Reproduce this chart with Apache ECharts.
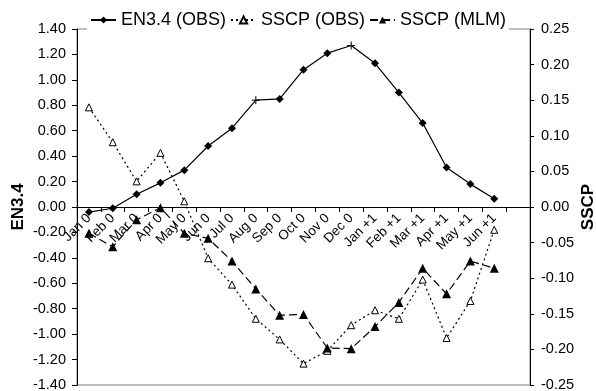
<!DOCTYPE html>
<html>
<head>
<meta charset="utf-8">
<script src="https://cdn.jsdelivr.net/npm/echarts@6/dist/echarts.min.js"></script>
<style>
  html, body { margin: 0; padding: 0; background: #fff; }
  #chart { width: 596px; height: 391px; }
</style>
</head>
<body>
<div id="chart"></div>
<script>
// month labels (last slot is empty in the original sheet)
const months = ['Jan 0', 'Feb 0', 'Mar 0', 'Apr 0', 'May 0', 'Jun 0', 'Jul 0', 'Aug 0', 'Sep 0',
    'Oct 0', 'Nov 0', 'Dec 0', 'Jan +1', 'Feb +1', 'Mar +1', 'Apr +1', 'May +1', 'Jun +1', ''];

// EN3.4 observed (left axis)
const en34Obs = [-0.04, -0.01, 0.10, 0.19, 0.29, 0.48, 0.62, 0.84, 0.85,
    1.08, 1.21, 1.27, 1.13, 0.90, 0.66, 0.31, 0.18, 0.065];

// SSCP observed (right axis)
const sscpObs = [0.140, 0.091, 0.036, 0.076, 0.008, -0.072, -0.109, -0.157, -0.186,
    -0.220, -0.202, -0.166, -0.145, -0.157, -0.102, -0.184, -0.132, -0.032];

// SSCP model (right axis)
const sscpMlm = [-0.037, -0.056, -0.018, -0.001, -0.037, -0.044, -0.076, -0.115, -0.152,
    -0.151, -0.198, -0.199, -0.168, -0.134, -0.086, -0.122, -0.076, -0.086];

const leftTicks = { min: -1.4, max: 1.4, step: 0.2 };
const rightTicks = { min: -0.25, max: 0.25, step: 0.05 };

// points drawn with a plain cross in the source instead of a diamond
const crossPoints = [7, 11];

const chart = echarts.init(document.getElementById('chart'));
const font = 'Liberation Sans, Arial, sans-serif';

const gridTop = 29, gridBottom = 6, chartH = 391;
// the category axis sits on the zero line, half way down the plot
const zeroOffset = -((chartH - gridTop - gridBottom) / 2);

const en34Data = en34Obs.map((v, i) => crossPoints.includes(i)
    ? { value: v, symbol: 'path://M0,4L8,4M4,0L4,8', symbolSize: 8,
        itemStyle: { color: 'none', borderColor: '#000', borderWidth: 1 } }
    : v);

const option = {
    animation: false,
    textStyle: { fontFamily: font, color: '#000' },
    legend: {
        left: 87,
        top: 9,
        padding: [2, 3, 3, 3],
        itemGap: 4,
        itemWidth: 25,
        itemHeight: 9,
        backgroundColor: '#fff',
        textStyle: { fontSize: 18, color: '#000', fontFamily: font },
        data: ['EN3.4 (OBS)', 'SSCP (OBS)', 'SSCP (MLM)']
    },
    grid: {
        left: 77, right: 66, top: gridTop, bottom: gridBottom,
        outerBoundsMode: 'none',
        containLabel: false,
        show: true,
        borderColor: '#808080',
        borderWidth: 1
    },
    xAxis: {
        type: 'category',
        data: months,
        boundaryGap: true,
        position: 'bottom',
        offset: zeroOffset,
        axisLine: { onZero: false, lineStyle: { color: '#000', width: 1 } },
        axisTick: { show: true, interval: 0, length: 5, lineStyle: { color: '#000' } },
        axisLabel: { interval: 0, rotate: 45, fontSize: 13.5, margin: 9, color: '#000', fontFamily: font },
        splitLine: { show: false }
    },
    yAxis: [
        {
            type: 'value',
            position: 'left',
            min: leftTicks.min, max: leftTicks.max, interval: leftTicks.step,
            name: 'EN3.4',
            nameLocation: 'middle',
            nameRotate: 90,
            nameGap: 50,
            nameMoveOverlap: false,
            nameTextStyle: { fontSize: 17, fontWeight: 'bold', color: '#000', fontFamily: font },
            axisLine: { show: true, onZero: false, lineStyle: { color: '#000' } },
            axisTick: { show: true, length: 5, lineStyle: { color: '#000' } },
            axisLabel: { fontSize: 14.5, margin: 11, color: '#000', fontFamily: font,
                formatter: v => v.toFixed(2) },
            splitLine: { show: false }
        },
        {
            type: 'value',
            position: 'right',
            min: rightTicks.min, max: rightTicks.max, interval: rightTicks.step,
            name: 'SSCP',
            nameLocation: 'middle',
            nameRotate: 90,
            nameGap: 50,
            nameMoveOverlap: false,
            nameTextStyle: { fontSize: 17, fontWeight: 'bold', color: '#000', fontFamily: font },
            axisLine: { show: true, onZero: false, lineStyle: { color: '#000' } },
            axisTick: { show: true, length: 4, lineStyle: { color: '#000' } },
            axisLabel: { fontSize: 14.5, margin: 11, color: '#000', fontFamily: font,
                formatter: v => v.toFixed(2) },
            splitLine: { show: false }
        }
    ],
    series: [
        {
            name: 'EN3.4 (OBS)',
            type: 'line',
            yAxisIndex: 0,
            data: en34Data,
            symbol: 'diamond',
            symbolSize: 8,
            itemStyle: { color: '#000' },
            lineStyle: { color: '#000', width: 1.2, type: 'solid' },
            z: 3
        },
        {
            name: 'SSCP (OBS)',
            type: 'line',
            yAxisIndex: 1,
            data: sscpObs,
            symbol: 'triangle',
            symbolSize: 7,
            itemStyle: { color: '#fff', borderColor: '#000', borderWidth: 1 },
            lineStyle: { color: '#000', width: 1.2, type: [2, 3] },
            z: 2
        },
        {
            name: 'SSCP (MLM)',
            type: 'line',
            yAxisIndex: 1,
            data: sscpMlm,
            symbol: 'triangle',
            symbolSize: 9,
            itemStyle: { color: '#000' },
            lineStyle: { color: '#000', width: 1.2, type: [8, 4] },
            z: 2
        }
    ]
};

chart.setOption(option);
</script>
</body>
</html>
